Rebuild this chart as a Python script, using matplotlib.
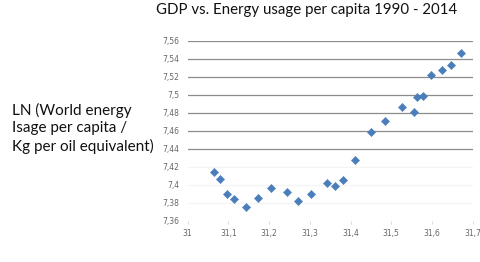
import matplotlib
matplotlib.use("Agg")
import matplotlib.pyplot as plt
from matplotlib.ticker import FuncFormatter

ln_gdp = [31.065, 31.079, 31.097, 31.114, 31.144, 31.173, 31.204, 31.243,
          31.270, 31.302, 31.342, 31.362, 31.382, 31.410, 31.450, 31.484,
          31.525, 31.555, 31.563, 31.578, 31.597, 31.625, 31.647, 31.671]
ln_energy = [7.4148, 7.4067, 7.3897, 7.3844, 7.3759, 7.3859, 7.3970, 7.3919,
             7.3826, 7.3903, 7.4019, 7.3986, 7.4052, 7.4274, 7.4592, 7.4714,
             7.4870, 7.4811, 7.4981, 7.4986, 7.5219, 7.5278, 7.5337, 7.5463]
x_ticks = [31.0, 31.1, 31.2, 31.3, 31.4, 31.5, 31.6, 31.7]
y_ticks = [7.36, 7.38, 7.40, 7.42, 7.44, 7.46, 7.48, 7.50, 7.52, 7.54, 7.56]

title = "GDP vs. Energy usage per capita 1990 - 2014"
ylabel = "LN (World energy\nIsage per capita /\nKg per oil equivalent)"

fig = plt.figure(figsize=(4.81, 2.62), dpi=100)
ax = fig.add_axes([0.390, 0.157, 0.593, 0.687])

ax.scatter(ln_gdp, ln_energy, marker="D", s=18, color="#4a7ebb",
           edgecolors="#4a7ebb", linewidths=0.3, zorder=3)

ax.set_xlim(31.0, 31.7)
ax.set_ylim(7.36, 7.56)
ax.set_xticks(x_ticks)
ax.set_yticks(y_ticks)

def comma(v, pos):
    s = ("%.2f" % v).rstrip("0").rstrip(".")
    return s.replace(".", ",")

ax.xaxis.set_major_formatter(FuncFormatter(comma))
ax.yaxis.set_major_formatter(FuncFormatter(comma))

for y in y_ticks:
    c = "#8c8c8c" if y >= 7.439 else "#f4f4f4"
    ax.axhline(y, color=c, linewidth=0.9, zorder=1)

for s in ax.spines.values():
    s.set_visible(False)
ax.tick_params(axis="y", length=0, labelsize=5.5, labelcolor="#666666", pad=6)
ax.tick_params(axis="x", length=2, color="#dddddd", labelsize=5.5,
               labelcolor="#666666", pad=4)

fig.text(0.638, 0.962, title, ha="center", va="center", fontsize=10.8,
         family=["Lato", "DejaVu Sans"], color="#111111")
fig.text(0.024, 0.511, ylabel, ha="left", va="center", fontsize=11,
         family=["Lato", "DejaVu Sans"], color="#111111", linespacing=1.3)

fig.savefig("out.png", dpi=100)
